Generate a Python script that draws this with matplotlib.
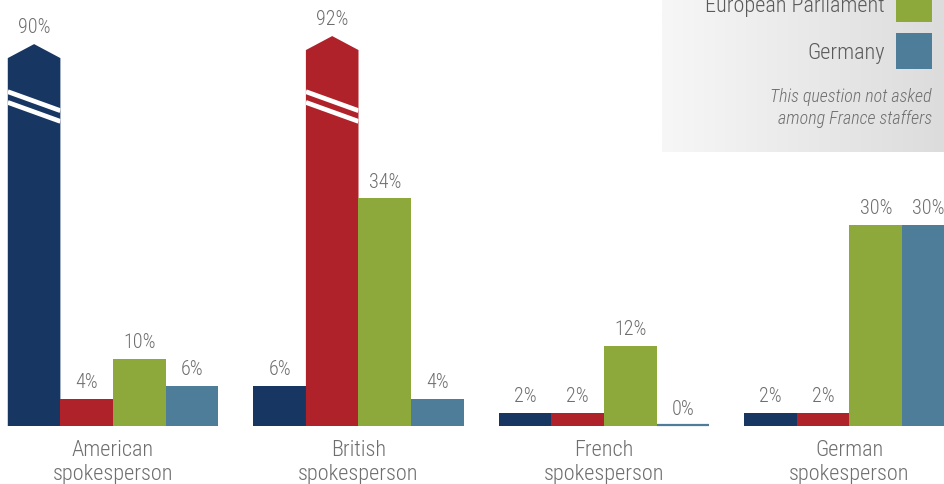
import matplotlib
matplotlib.use('Agg')
import matplotlib.pyplot as plt
import matplotlib.patches as mpatches
import numpy as np

# ── Data ──────────────────────────────────────────────────────────────────────
CATEGORIES = ["American\nspokesperson", "British\nspokesperson",
              "French\nspokesperson", "German\nspokesperson"]
SERIES = ["United States", "United Kingdom", "European Parliament", "Germany"]
US_VALS = [90, 6, 2, 2]
UK_VALS = [4, 92, 2, 2]
EP_VALS = [10, 34, 12, 30]
DE_VALS = [6, 4, 0, 30]

# ── Style ─────────────────────────────────────────────────────────────────────
COLORS = ['#183662', '#b0222a', '#8da83b', '#4d7d98']
TEXT_GRAY = '#6e6e6e'
LEGEND_GRAY = '#5a5a5a'
plt.rcParams['font.family'] = ['Roboto Condensed', 'Liberation Sans', 'DejaVu Sans']
WEIGHT = 'light'

W, H = 945, 484
PX_PER_PCT = 6.7
BASE_PX = 426            # baseline, px from top
BAR_W = 0.2143           # in group units
GROUP_PX = 245.5
FIRST_CENTER_PX = 113

# bars above this are drawn with a broken, pointed top
BREAK_LIMIT = 60
def shown_height(v):
    return 57 + (v - 90) * 0.6 if v > BREAK_LIMIT else v

fig = plt.figure(figsize=(W / 100, H / 100), dpi=100, facecolor='white')
ax = fig.add_axes([0, 0, 1, 1])
ax.set_xlim(-FIRST_CENTER_PX / GROUP_PX, (W - FIRST_CENTER_PX) / GROUP_PX)
ax.set_ylim(-(H - BASE_PX) / PX_PER_PCT, BASE_PX / PX_PER_PCT)
ax.axis('off')

lbl_off = 10.7 / PX_PER_PCT
all_vals = [US_VALS, UK_VALS, EP_VALS, DE_VALS]
for j, vals in enumerate(all_vals):
    for g, v in enumerate(vals):
        xc = g + (j - 1.5) * BAR_W
        x0, x1 = xc - BAR_W / 2, xc + BAR_W / 2
        if v > BREAK_LIMIT:
            top = shown_height(v)
            sh = top - 14 / PX_PER_PCT
            poly = mpatches.Polygon([(x0, 0), (x0, sh), (xc, top), (x1, sh), (x1, 0)],
                                    closed=True, facecolor=COLORS[j], edgecolor='none', zorder=2)
            ax.add_patch(poly)
            drop = 19 / PX_PER_PCT
            for yl in (49.9, 48.3):
                ln, = ax.plot([x0, x1], [yl, yl - drop], color='white', lw=3.4,
                              solid_capstyle='butt', zorder=3)
                ln.set_clip_path(poly)
        elif v == 0:
            top = 0
            ax.plot([x0, x1], [0.12, 0.12], color=COLORS[j], lw=1.6,
                    solid_capstyle='butt', zorder=2)
        else:
            top = v
            ax.bar(xc, v, width=BAR_W, color=COLORS[j], linewidth=0, zorder=2)
        ax.text(xc, top + lbl_off, f"{v}%", ha='center', va='baseline',
                fontsize=14.5, color=TEXT_GRAY, weight=WEIGHT, zorder=4)

for g, cat in enumerate(CATEGORIES):
    first, second = cat.split("\n")
    ax.text(g, -30 / PX_PER_PCT, first, ha='center', va='baseline',
            fontsize=16, color=TEXT_GRAY, weight=WEIGHT)
    ax.text(g, -54 / PX_PER_PCT, second, ha='center', va='baseline',
            fontsize=16, color=TEXT_GRAY, weight=WEIGHT)

# ── Legend box (pixel coordinates) ────────────────────────────────────────────
LX0, LX1, LY1 = 662, 945, 152
lax = fig.add_axes([LX0 / W, 1 - LY1 / H, (LX1 - LX0) / W, LY1 / H])
lax.set_xlim(LX0, LX1)
lax.set_ylim(LY1, 0)
lax.axis('off')
grad = np.linspace(0, 1, 256)[None, :]
lax.imshow(grad, extent=(LX0, LX1, LY1, 0), aspect='auto',
           cmap=matplotlib.colors.LinearSegmentedColormap.from_list('g', ['#f7f7f7', '#dcdcdd']),
           zorder=0)

for name, col, yc in [(SERIES[2], COLORS[2], 4), (SERIES[3], COLORS[3], 51)]:
    lax.add_patch(mpatches.Rectangle((896, yc - 18), 36, 36, facecolor=col,
                                     edgecolor='none', zorder=2))
    lax.text(885, yc, name, ha='right', va='center_baseline', fontsize=16,
             color=LEGEND_GRAY, weight=WEIGHT, zorder=3)

lax.text(932, 102.5, "This question not asked", ha='right', va='baseline',
         fontsize=13, style='italic', color=TEXT_GRAY, weight=WEIGHT, zorder=3)
lax.text(932, 124, "among France staffers", ha='right', va='baseline',
         fontsize=13, style='italic', color=TEXT_GRAY, weight=WEIGHT, zorder=3)

plt.savefig('out.png', dpi=100, facecolor='white')
plt.close(fig)
